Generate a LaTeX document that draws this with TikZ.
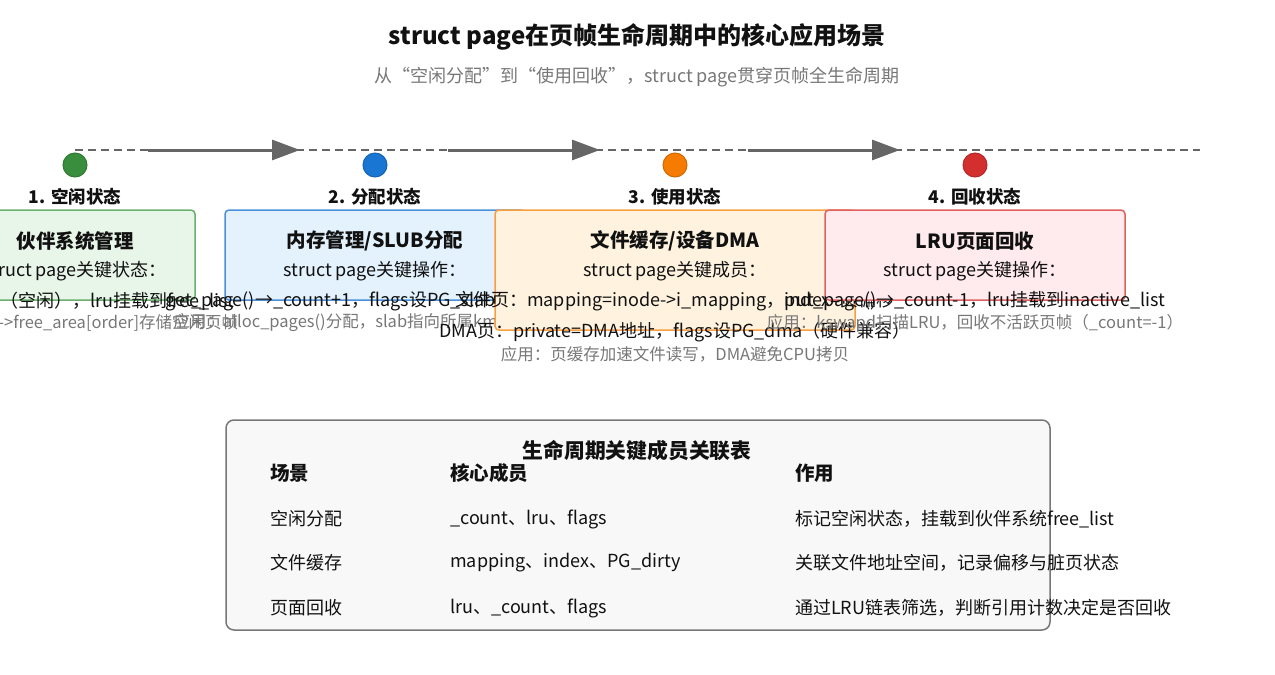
\documentclass[tikz,border=0pt]{standalone}
\usepackage{fontspec}
\setmainfont{Noto Sans CJK SC}
\usetikzlibrary{arrows.meta}
\definecolor{LCText}{HTML}{111111}
\definecolor{LCGray}{HTML}{777777}
\definecolor{LCLine}{HTML}{666666}
\definecolor{LCGreen}{HTML}{388E3C}
\definecolor{LCGreenEdge}{HTML}{6AAF6E}
\definecolor{LCGreenFill}{HTML}{E8F5E9}
\definecolor{LCBlue}{HTML}{1976D2}
\definecolor{LCBlueEdge}{HTML}{4A90D9}
\definecolor{LCBlueFill}{HTML}{E3F2FD}
\definecolor{LCOrange}{HTML}{F57C00}
\definecolor{LCOrangeEdge}{HTML}{F8A040}
\definecolor{LCOrangeFill}{HTML}{FFF3E0}
\definecolor{LCRed}{HTML}{D32F2F}
\definecolor{LCRedEdge}{HTML}{E06060}
\definecolor{LCRedFill}{HTML}{FFEBEE}
\definecolor{LCTableFill}{HTML}{F8F8F8}

\begin{document}
\begin{tikzpicture}[x=1pt,y=-1pt,
    stagebox/.style={draw, line width=1.5pt, rounded corners=4pt, inner sep=0pt},
    stagedot/.style={circle, minimum size=24pt, inner sep=0pt, line width=1pt},
    stagelabel/.style={font=\fontsize{17.5}{20}\selectfont\bfseries, text=LCText},
    boxtitle/.style={font=\fontsize{19.5}{22}\selectfont\bfseries, text=LCText},
    boxline/.style={font=\fontsize{18}{20}\selectfont, text=LCText},
    boxnote/.style={font=\fontsize{16.5}{18}\selectfont, text=LCGray},
    cell/.style={anchor=west, inner sep=0pt, font=\fontsize{18}{20}\selectfont, text=LCText},
    headcell/.style={anchor=west, inner sep=0pt, font=\fontsize{19.5}{22}\selectfont\bfseries, text=LCText}]
    \useasboundingbox (0,0) rectangle (1275,675);

    % title
    \node[font=\fontsize{24}{28}\selectfont\bfseries, text=LCText] (title) at (637,37)
      {struct page在页帧生命周期中的核心应用场景};
    \node[font=\fontsize{18}{20}\selectfont, text=LCGray] (subtitle) at (637,77)
      {从“空闲分配”到“使用回收”，struct page贯穿页帧全生命周期};

    % timeline
    \coordinate (tlstart) at (75,150);
    \coordinate (tlend) at (1200,150);
    \draw[LCLine, line width=2.5pt, dash pattern=on 8pt off 5pt] (tlstart) -- (tlend);
    \coordinate (a1s) at (148,150); \coordinate (a1e) at (300,150);
    \coordinate (a2s) at (448,150); \coordinate (a2e) at (600,150);
    \coordinate (a3s) at (748,150); \coordinate (a3e) at (900,150);
    \draw[LCLine, line width=3pt, -{Triangle[length=28pt,width=20pt]}] (a1s) -- (a1e);
    \draw[LCLine, line width=3pt, -{Triangle[length=28pt,width=20pt]}] (a2s) -- (a2e);
    \draw[LCLine, line width=3pt, -{Triangle[length=28pt,width=20pt]}] (a3s) -- (a3e);

    \node[stagedot, fill=LCGreen, draw=LCGreen!85!black] (dot1) at (75,165) {};
    \node[stagedot, fill=LCBlue, draw=LCBlue!85!black] (dot2) at (375,165) {};
    \node[stagedot, fill=LCOrange, draw=LCOrange!85!black] (dot3) at (675,165) {};
    \node[stagedot, fill=LCRed, draw=LCRed!85!black] (dot4) at (975,165) {};

    \node[stagelabel] (lab1) at (75,197) {1. 空闲状态};
    \node[stagelabel] (lab2) at (375,197) {2. 分配状态};
    \node[stagelabel] (lab3) at (675,197) {3. 使用状态};
    \node[stagelabel] (lab4) at (975,197) {4. 回收状态};

    % stage 1
    \node[stagebox, draw=LCGreenEdge, fill=LCGreenFill, minimum width=240pt, minimum height=90pt] (box1) at (75,255) {};
    \node[boxtitle] (t1) at (75,241) {伙伴系统管理};
    \node[boxline] (s1) at (75,271) {struct page关键状态：};
    \node[boxline] (l1) at (75,301) {\_count=-1（空闲），lru挂载到free\_list};
    \node[boxnote] (n1) at (75,323) {应用：zone->free\_area[order]存储空闲页帧};

    % stage 2
    \node[stagebox, draw=LCBlueEdge, fill=LCBlueFill, minimum width=300pt, minimum height=90pt] (box2) at (375,255) {};
    \node[boxtitle] (t2) at (375,241) {内存管理/SLUB分配};
    \node[boxline] (s2) at (375,271) {struct page关键操作：};
    \node[boxline] (l2) at (375,301) {get\_page()→\_count+1，flags设PG\_slab（slab页）};
    \node[boxnote] (n2) at (375,323) {应用：alloc\_pages()分配，slab指向所属kmem\_cache};

    % stage 3
    \node[stagebox, draw=LCOrangeEdge, fill=LCOrangeFill, minimum width=360pt, minimum height=120pt] (box3) at (675,270) {};
    \node[boxtitle] (t3) at (675,241) {文件缓存/设备DMA};
    \node[boxline] (s3) at (675,271) {struct page关键成员：};
    \node[boxline] (l3) at (675,301) {文件页：mapping=inode->i\_mapping，index=页偏移};
    \node[boxline] (m3) at (675,332) {DMA页：private=DMA地址，flags设PG\_dma（硬件兼容）};
    \node[boxnote] (n3) at (675,354) {应用：页缓存加速文件读写，DMA避免CPU拷贝};

    % stage 4
    \node[stagebox, draw=LCRedEdge, fill=LCRedFill, minimum width=300pt, minimum height=90pt] (box4) at (975,255) {};
    \node[boxtitle] (t4) at (975,241) {LRU页面回收};
    \node[boxline] (s4) at (975,271) {struct page关键操作：};
    \node[boxline] (l4) at (975,301) {put\_page()→\_count-1，lru挂载到inactive\_list};
    \node[boxnote] (n4) at (975,323) {应用：kswapd扫描LRU，回收不活跃页帧（\_count=-1）};

    % table
    \node[draw=LCGray, fill=LCTableFill, line width=1.5pt, rounded corners=8pt, inner sep=0pt,
      minimum width=824pt, minimum height=210pt] (table) at (638,525) {};
    \node[font=\fontsize{20.8}{24}\selectfont\bfseries, text=LCText] (tabtitle) at (637,451) {生命周期关键成员关联表};
    \node[headcell] (h1) at (270,473) {场景};
    \node[headcell] (h2) at (450,473) {核心成员};
    \node[headcell] (h3) at (795,473) {作用};
    \node[cell] (r1a) at (270,519) {空闲分配};
    \node[cell] (r1b) at (450,519) {\_count、lru、flags};
    \node[cell] (r1c) at (795,519) {标记空闲状态，挂载到伙伴系统free\_list};
    \node[cell] (r2a) at (270,563) {文件缓存};
    \node[cell] (r2b) at (450,563) {mapping、index、PG\_dirty};
    \node[cell] (r2c) at (795,563) {关联文件地址空间，记录偏移与脏页状态};
    \node[cell] (r3a) at (270,608) {页面回收};
    \node[cell] (r3b) at (450,608) {lru、\_count、flags};
    \node[cell] (r3c) at (795,608) {通过LRU链表筛选，判断引用计数决定是否回收};
  \end{tikzpicture}
\end{document}
